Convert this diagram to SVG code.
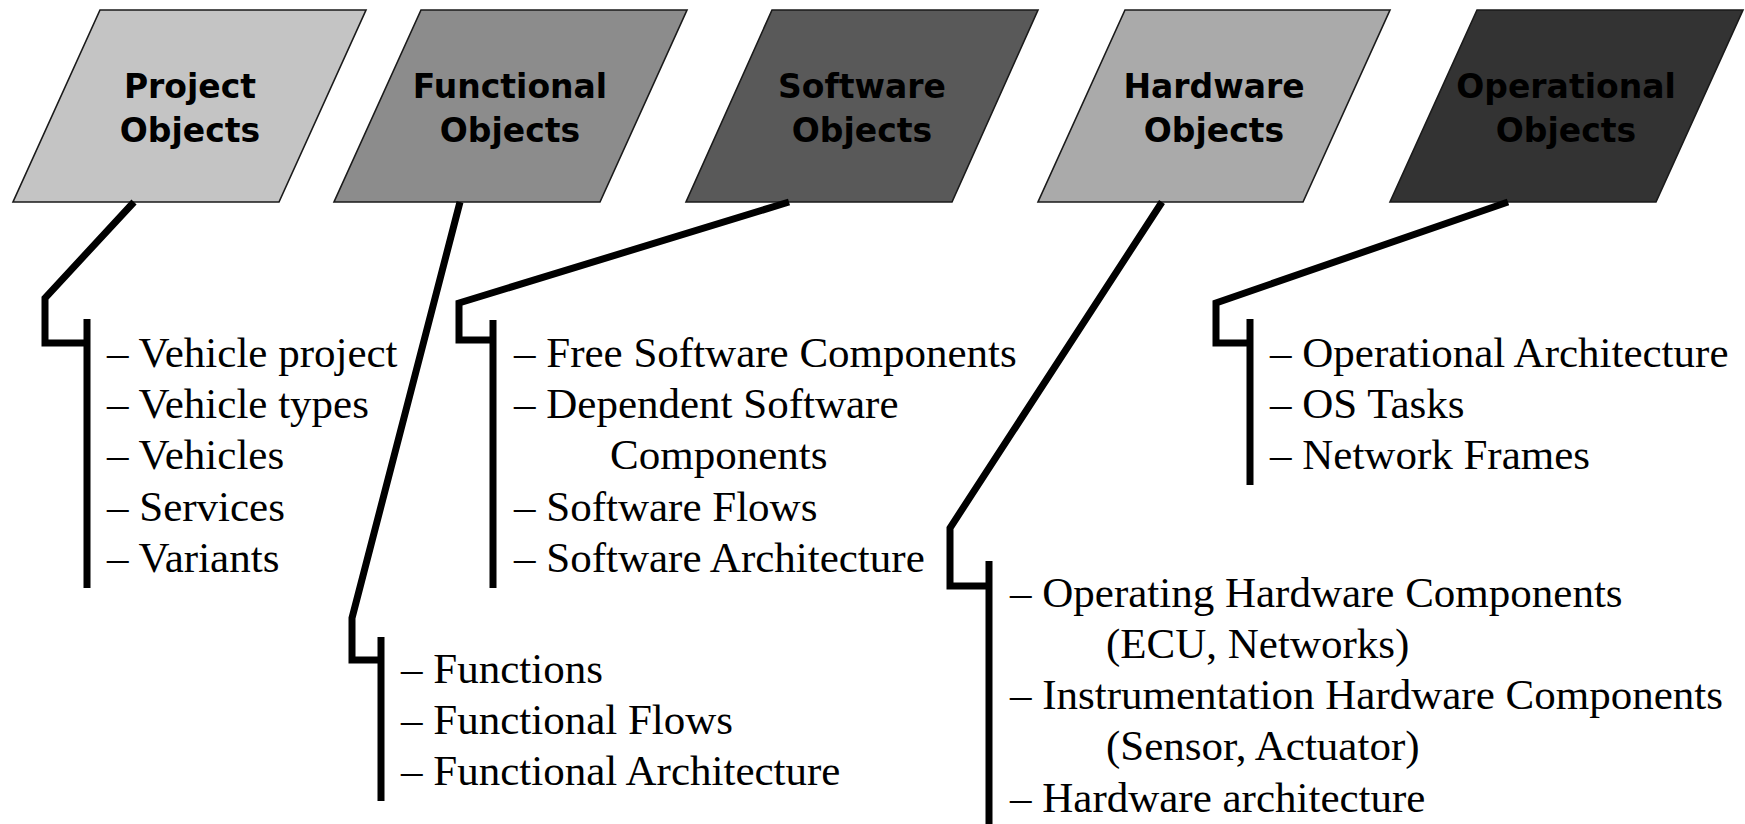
<svg xmlns="http://www.w3.org/2000/svg" width="1745" height="824" viewBox="0 0 1745 824">
<style>
.box{stroke:#1a1a1a;stroke-width:1.6}
.hd{font-family:"DejaVu Sans",Verdana,sans-serif;font-weight:bold;font-size:33px;fill:#000;text-anchor:middle}
.it{font-family:"Liberation Serif","Times New Roman",serif;font-size:43px;fill:#000}
.cn{fill:none;stroke:#000;stroke-width:7;stroke-linejoin:miter;stroke-linecap:butt}
</style>
<rect width="1745" height="824" fill="#fff"/>
<g id="project">
<polygon class="box" fill="#c4c4c4" points="100,10 366,10 279,202 13,202"/>
<text class="hd" x="190" y="98">Project</text>
<text class="hd" x="190" y="142">Objects</text>
</g>
<g id="functional">
<polygon class="box" fill="#8c8c8c" points="421,10 687,10 600,202 334,202"/>
<text class="hd" x="510" y="98">Functional</text>
<text class="hd" x="510" y="142">Objects</text>
</g>
<g id="software">
<polygon class="box" fill="#595959" points="772,10 1038,10 952,202 686,202"/>
<text class="hd" x="862" y="98">Software</text>
<text class="hd" x="862" y="142">Objects</text>
</g>
<g id="hardware">
<polygon class="box" fill="#aaaaaa" points="1125,10 1390,10 1303,202 1038,202"/>
<text class="hd" x="1214" y="98">Hardware</text>
<text class="hd" x="1214" y="142">Objects</text>
</g>
<g id="operational">
<polygon class="box" fill="#333333" points="1477,10 1743,10 1656,202 1390,202"/>
<text class="hd" x="1566" y="98">Operational</text>
<text class="hd" x="1566" y="142">Objects</text>
</g>
<g id="connectors">
<polyline class="cn" points="134,202 45,298 45,343 87,343"/>
<line class="cn" x1="87" y1="319" x2="87" y2="588"/>
<polyline class="cn" points="460,202 352,618 352,660 381,660"/>
<line class="cn" x1="381" y1="637" x2="381" y2="801"/>
<polyline class="cn" points="789,202 459,303 459,340 493,340"/>
<line class="cn" x1="493" y1="320" x2="493" y2="588"/>
<polyline class="cn" points="1162,202 950,528 950,586 989,586"/>
<line class="cn" x1="989" y1="561" x2="989" y2="824"/>
<polyline class="cn" points="1508,202 1216,303 1216,343 1250,343"/>
<line class="cn" x1="1250" y1="319" x2="1250" y2="485"/>
</g>
<g id="project-items" class="it">
<text x="107" y="367">– Vehicle project</text>
<text x="107" y="418">– Vehicle types</text>
<text x="107" y="469">– Vehicles</text>
<text x="107" y="521">– Services</text>
<text x="107" y="572">– Variants</text>
</g>
<g id="functional-items" class="it">
<text x="401" y="683">– Functions</text>
<text x="401" y="734">– Functional Flows</text>
<text x="401" y="785">– Functional Architecture</text>
</g>
<g id="software-items" class="it">
<text x="514" y="367">– Free Software Components</text>
<text x="514" y="418">– Dependent Software</text>
<text x="610" y="469">Components</text>
<text x="514" y="521">– Software Flows</text>
<text x="514" y="572">– Software Architecture</text>
</g>
<g id="hardware-items" class="it">
<text x="1010" y="607">– Operating Hardware Components</text>
<text x="1106" y="658">(ECU, Networks)</text>
<text x="1010" y="709">– Instrumentation Hardware Components</text>
<text x="1106" y="760">(Sensor, Actuator)</text>
<text x="1010" y="812">– Hardware architecture</text>
</g>
<g id="operational-items" class="it">
<text x="1270" y="367">– Operational Architecture</text>
<text x="1270" y="418">– OS Tasks</text>
<text x="1270" y="469">– Network Frames</text>
</g>
</svg>
